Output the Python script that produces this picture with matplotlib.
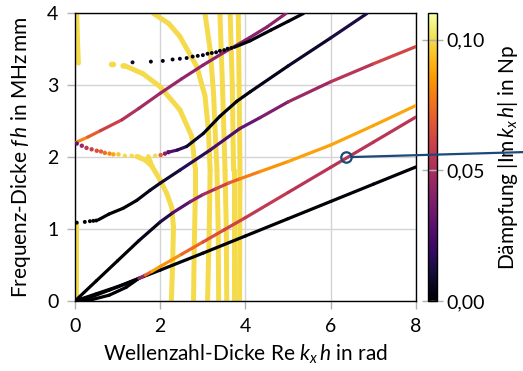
import numpy as np
import matplotlib
matplotlib.use("Agg")
import matplotlib.pyplot as plt
from matplotlib.collections import LineCollection
from matplotlib.colors import Normalize
from matplotlib.cm import ScalarMappable
from matplotlib.patches import ConnectionPatch

plt.rcParams['font.family'] = ['Lato', 'DejaVu Sans']
plt.rcParams['mathtext.fontset'] = 'custom'
plt.rcParams['mathtext.rm'] = 'Lato'
plt.rcParams['mathtext.it'] = 'Lato:italic'
plt.rcParams['font.size'] = 14

# branches: Re(kh) in rad, fh in MHz mm, |Im(kh)| in Np
# lowest branch from the origin
kh_a = [0, 0.5, 1.0, 1.5, 2.0, 3.0, 4.0, 5.0, 6.0, 7.0, 8.0]
fh_a = [0, 0.10, 0.20, 0.315, 0.43, 0.665, 0.905, 1.145, 1.385, 1.625, 1.865]
d_a = [0, 0, 0, 0, 0, 0, 0, 0, 0.001, 0.002, 0.002]

# two curved branches from the origin, meeting at kh ~ 1.5
kh_a0 = [0, 0.4, 0.8, 1.2, 1.5]
fh_a0 = [0, 0.02, 0.08, 0.19, 0.315]
d_a0 = [0, 0, 0, 0, 0]
kh_a1 = [0, 0.4, 0.8, 1.2, 1.5]
fh_a1 = [0, 0.06, 0.15, 0.24, 0.315]
d_a1 = [0, 0, 0, 0, 0]

# damped branch starting at the meeting point
kh_a2 = [1.5, 1.65, 1.8, 2.0, 2.5, 3.0, 3.5, 4.0, 5.0, 6.0, 7.0, 8.0]
fh_a2 = [0.315, 0.36, 0.41, 0.48, 0.65, 0.82, 0.99, 1.16, 1.51, 1.86, 2.21, 2.56]
d_a2 = [0.03, 0.06, 0.085, 0.088, 0.078, 0.068, 0.062, 0.058, 0.055, 0.054, 0.054, 0.055]

# steep branch from the origin
kh_b = [0, 0.5, 1.0, 1.5, 2.0, 2.3, 2.7, 3.0, 3.3, 3.6, 3.87, 4.34, 5.0, 6.0, 7.0, 8.0]
fh_b = [0, 0.28, 0.56, 0.84, 1.10, 1.23, 1.38, 1.48, 1.56, 1.64, 1.70, 1.80, 1.94, 2.17, 2.44, 2.72]
d_b = [0, 0, 0, 0.002, 0.008, 0.02, 0.035, 0.045, 0.055, 0.065, 0.075, 0.082, 0.086, 0.088, 0.088, 0.088]

# branch with cut-on at fh ~ 1.1
kh_c_dots = [0.04, 0.23, 0.35, 0.43, 0.50]
fh_c_dots = [1.09, 1.10, 1.11, 1.115, 1.12]
d_c_dots = [0, 0, 0, 0, 0]
kh_c = [0.55, 0.8, 1.13, 1.45, 1.76, 2.0, 2.46, 3.17, 3.87, 4.34, 5.0, 6.0, 7.0, 8.0]
fh_c = [1.13, 1.21, 1.29, 1.40, 1.54, 1.64, 1.82, 2.10, 2.40, 2.55, 2.77, 3.05, 3.30, 3.54]
d_c = [0, 0, 0, 0.002, 0.005, 0.008, 0.012, 0.02, 0.03, 0.035, 0.042, 0.05, 0.058, 0.065]

# branch from fh ~ 2.2 with backward part (dotted)
kh_d_dots = [0.04, 0.16, 0.27, 0.39, 0.51, 0.61, 0.70, 0.81, 0.90, 1.02, 1.17, 1.33,
             1.49, 1.72, 1.88, 2.01, 2.11, 2.19]
fh_d_dots = [2.19, 2.16, 2.13, 2.11, 2.09, 2.08, 2.06, 2.05, 2.04, 2.04, 2.02, 2.02,
             2.01, 2.01, 2.02, 2.03, 2.05, 2.07]
d_d_dots = [0.03, 0.045, 0.055, 0.06, 0.065, 0.07, 0.075, 0.08, 0.088, 0.095, 0.1, 0.1,
            0.1, 0.1, 0.1, 0.07, 0.04, 0.03]
kh_d = [2.19, 2.4, 2.62, 3.01, 3.40, 3.80, 4.11, 5.0, 6.0, 6.85]
fh_d = [2.07, 2.10, 2.15, 2.33, 2.57, 2.78, 2.91, 3.27, 3.66, 4.0]
d_d = [0.03, 0.02, 0.012, 0.004, 0.002, 0.002, 0.003, 0.006, 0.01, 0.015]

# forward branch from fh ~ 2.2
kh_e = [0, 0.3, 0.6, 1.1, 1.5, 2.0, 2.5, 3.0, 3.5, 4.0, 4.5, 4.95]
fh_e = [2.2, 2.28, 2.37, 2.52, 2.68, 2.89, 3.09, 3.28, 3.46, 3.63, 3.81, 4.0]
d_e = [0.085, 0.075, 0.065, 0.055, 0.05, 0.046, 0.044, 0.043, 0.042, 0.042, 0.042, 0.042]

# branch near fh ~ 3.3 (dotted, then solid)
kh_f_dots = [1.35, 1.78, 2.06, 2.29, 2.46, 2.62, 2.76, 2.88, 3.0, 3.11, 3.21, 3.31,
             3.40, 3.50, 3.58, 3.67]
fh_f_dots = [3.32, 3.33, 3.34, 3.36, 3.37, 3.38, 3.40, 3.41, 3.42, 3.44, 3.45, 3.46,
             3.48, 3.49, 3.51, 3.52]
d_f_dots = [0.008] + [0.004] * 15
kh_f = [3.74, 4.11, 4.6, 5.0, 5.36]
fh_f = [3.53, 3.62, 3.77, 3.89, 4.0]
d_f = [0.003, 0.003, 0.003, 0.003, 0.003]

# strongly damped branches (top of colour range)
d_hi = 0.1
kh_g = [0.04, 0.06, 0.08]
fh_g = [4.0, 3.6, 3.31]
kh_g_dots = [0.86, 0.90, 1.13, 1.17]
fh_g_dots = [3.29, 3.29, 3.27, 3.27]
kh_z = [0.03, 0.03]
fh_z = [0, 1.09]
kh_arc1 = [1.22, 1.6, 2.0, 2.46, 2.74, 2.82, 2.82, 2.80, 2.78]
fh_arc1 = [3.26, 3.16, 2.98, 2.66, 2.29, 1.85, 1.4, 0.8, 0]
kh_arc2 = [1.84, 2.2, 2.46, 2.86, 3.05, 3.13, 3.17, 3.15, 3.11]
fh_arc2 = [4.0, 3.86, 3.68, 3.26, 2.85, 2.38, 1.82, 1.0, 0]
kh_v3 = [3.05, 3.17, 3.25, 3.33, 3.36, 3.37]
fh_v3 = [4.0, 3.5, 2.89, 1.82, 1.0, 0]
kh_v4 = [3.40, 3.46, 3.52, 3.55, 3.56]
fh_v4 = [4.0, 3.0, 1.82, 1.0, 0]
kh_v5 = [3.64, 3.69, 3.72, 3.72]
fh_v5 = [4.0, 3.0, 1.82, 0]
kh_v6 = [3.83, 3.85, 3.87, 3.86]
fh_v6 = [4.0, 3.0, 1.82, 0]
kh_i = [1.45, 1.65, 1.8, 2.0, 2.15, 2.27, 2.31, 2.29, 2.26]
fh_i = [2.01, 1.96, 1.88, 1.68, 1.5, 1.3, 1.03, 0.5, 0]
kh_i2 = [1.72, 1.76, 1.8]
fh_i2 = [2.0, 1.94, 1.88]

# marked point
kh_mark, fh_mark = 6.35, 2.0

cmap = plt.get_cmap('inferno')
norm = Normalize(vmin=0, vmax=0.11)


def branch(ax, kh, fh, d, lw, z=2):
    pts = np.column_stack([kh, fh])
    segs = np.stack([pts[:-1], pts[1:]], axis=1)
    d = np.asarray(d, dtype=float)
    lc = LineCollection(segs, cmap=cmap, norm=norm, linewidths=lw,
                        capstyle='round', joinstyle='round', zorder=z)
    lc.set_array((d[:-1] + d[1:]) / 2)
    ax.add_collection(lc)


def dots(ax, kh, fh, d, s, z=3):
    ax.scatter(kh, fh, c=d, cmap=cmap, norm=norm, s=s, linewidths=0, zorder=z)


fig = plt.figure(figsize=(5.23, 3.71), dpi=100)
ax = fig.add_axes([0.1434, 0.1887, 0.652, 0.775])
cax = fig.add_axes([0.819, 0.1887, 0.016, 0.775])

lw_hi = 3.6
for kh, fh in [(kh_z, fh_z), (kh_g, fh_g), (kh_arc1, fh_arc1), (kh_arc2, fh_arc2),
               (kh_v3, fh_v3), (kh_v4, fh_v4), (kh_v5, fh_v5), (kh_v6, fh_v6),
               (kh_i, fh_i), (kh_i2, fh_i2)]:
    branch(ax, kh, fh, [d_hi] * len(kh), lw_hi, z=2)
dots(ax, kh_g_dots, fh_g_dots, [d_hi] * len(kh_g_dots), 16)

lw = 2.3
branch(ax, kh_a0, fh_a0, d_a0, lw, z=3)
branch(ax, kh_a1, fh_a1, d_a1, lw, z=3)
branch(ax, kh_a, fh_a, d_a, lw, z=3)
branch(ax, kh_a2, fh_a2, d_a2, lw, z=3)
branch(ax, kh_b, fh_b, d_b, lw, z=3)
branch(ax, kh_c, fh_c, d_c, lw, z=3)
branch(ax, kh_d, fh_d, d_d, lw, z=3)
branch(ax, kh_e, fh_e, d_e, lw, z=3)
branch(ax, kh_f, fh_f, d_f, lw, z=3)
dots(ax, kh_c_dots, fh_c_dots, d_c_dots, 8)
dots(ax, kh_d_dots, fh_d_dots, d_d_dots, 10)
dots(ax, kh_f_dots, fh_f_dots, d_f_dots, 8)

blue = '#1b4a78'
ax.plot(kh_mark, fh_mark, 'o', mfc='none', mec=blue, ms=7.5, mew=1.6, zorder=5)
con = ConnectionPatch(xyA=(kh_mark, fh_mark), coordsA=ax.transData,
                      xyB=(1.0, 0.59), coordsB=fig.transFigure,
                      color=blue, lw=1.6, shrinkA=4, shrinkB=0, zorder=10)
fig.add_artist(con)

ax.set_xlim(0, 8)
ax.set_ylim(0, 4)
ax.set_xticks([0, 2, 4, 6, 8])
ax.set_yticks([0, 1, 2, 3, 4])
ax.grid(True, color='#d4d4d4', lw=1)
ax.set_axisbelow(True)
ax.tick_params(direction='out', length=6, width=1, color='#b0b0b0')
ax.tick_params(axis='x', pad=6)
ax.tick_params(axis='y', pad=6)
for sp in ax.spines.values():
    sp.set_linewidth(1)
ax.set_xlabel(r'Wellenzahl-Dicke Re $k_x\,h$ in rad', fontsize=15, labelpad=6)
ax.set_ylabel(r'Frequenz-Dicke $f\,h$ in MHz$\,$mm', fontsize=15, labelpad=10)

cb = fig.colorbar(ScalarMappable(norm=norm, cmap=cmap), cax=cax)
cb.set_ticks([0, 0.05, 0.10])
cb.set_ticklabels(['0,00', '0,05', '0,10'])
cb.outline.set_linewidth(1)
cax.tick_params(direction='inout', length=8, width=1, color='#b0b0b0', left=True, pad=3)
cb.set_label(r'Dämpfung $|\mathrm{Im}\,k_x\,h|$ in Np', fontsize=15, labelpad=8)

fig.savefig('out.png', dpi=100)
